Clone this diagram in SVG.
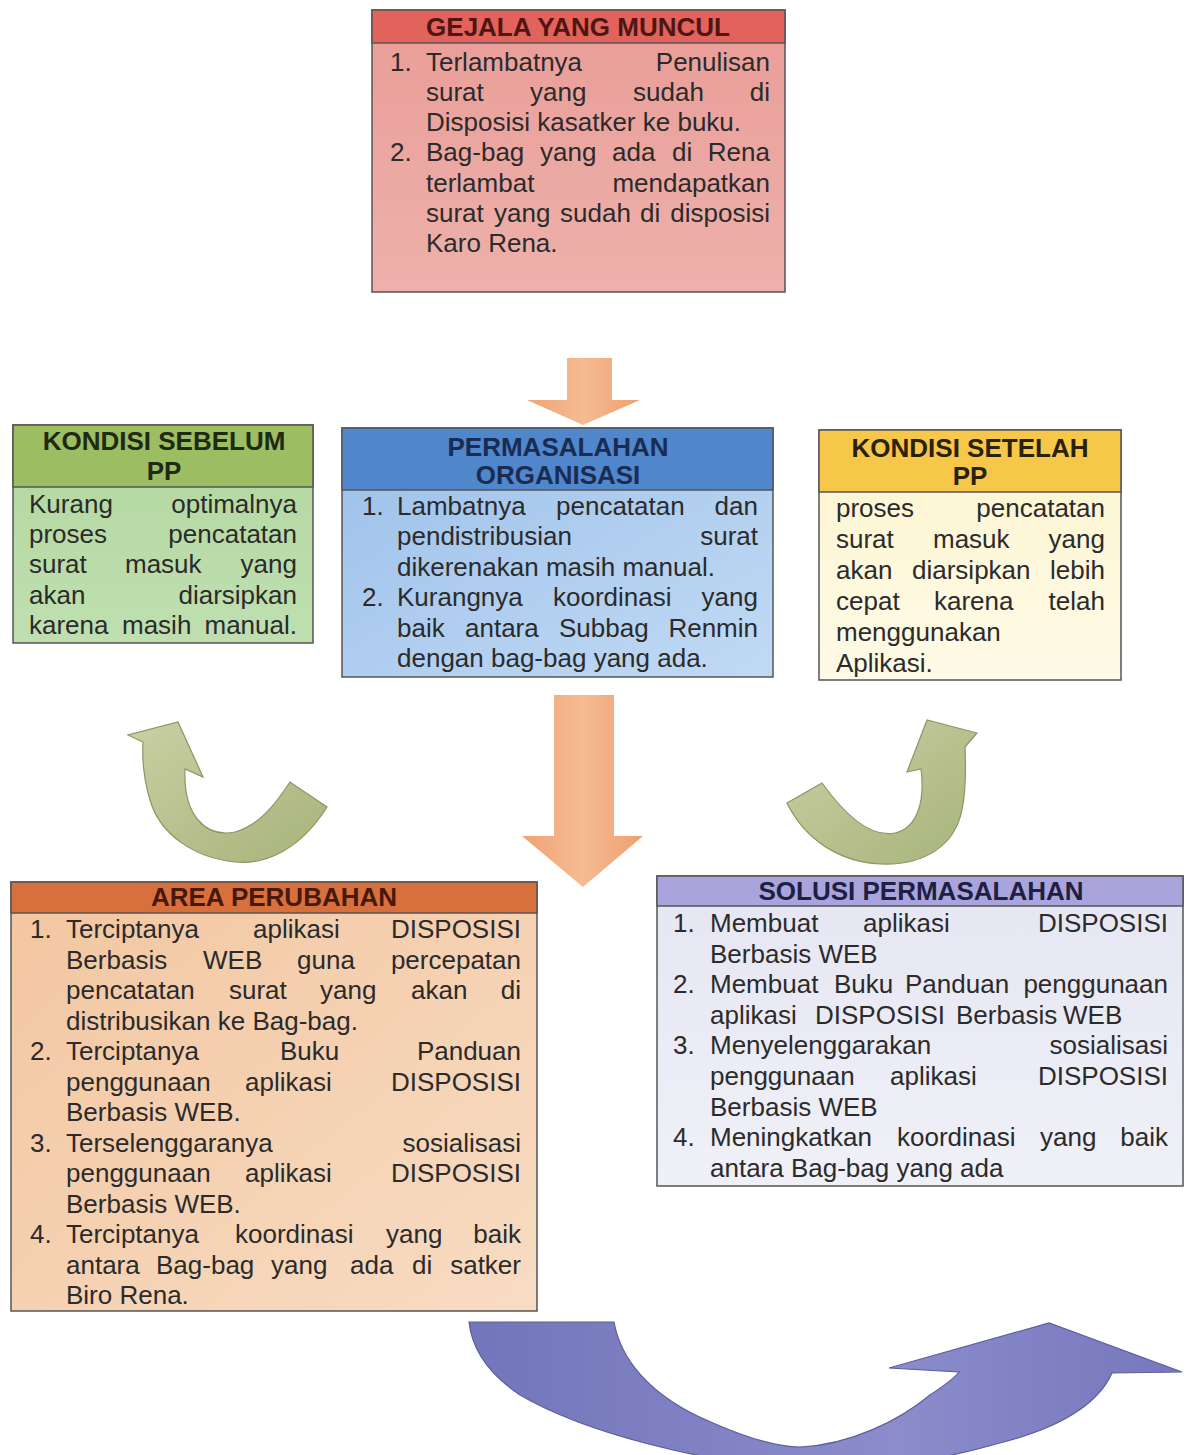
<svg xmlns="http://www.w3.org/2000/svg" width="1186" height="1455" viewBox="0 0 1186 1455">
<style>
.t{font-family:"Liberation Sans",Arial,sans-serif;font-size:26px;fill:#2b2b2b}
.h{font-weight:bold;text-anchor:middle}
.r{text-anchor:end}
.bx{stroke:#555;stroke-width:1.5}
.ln{stroke:#555;stroke-width:1.5;fill:none}
</style>
<defs>
<linearGradient id="gPink" x1="0" y1="0" x2="0" y2="1"><stop offset="0" stop-color="#e99c97"/><stop offset="1" stop-color="#eeb1ab"/></linearGradient>
<linearGradient id="gGreen" x1="0" y1="0" x2="0" y2="1"><stop offset="0" stop-color="#b2d79f"/><stop offset="1" stop-color="#bfdfb0"/></linearGradient>
<linearGradient id="gBlue" x1="0" y1="0" x2="1" y2="1"><stop offset="0" stop-color="#9cc0ea"/><stop offset="1" stop-color="#c1daf4"/></linearGradient>
<linearGradient id="gYel" x1="0" y1="0" x2="0" y2="1"><stop offset="0" stop-color="#fdf5cf"/><stop offset="1" stop-color="#fefae6"/></linearGradient>
<linearGradient id="gPeach" x1="0" y1="0" x2="1" y2="1"><stop offset="0" stop-color="#f2c6a0"/><stop offset="1" stop-color="#f8dcc3"/></linearGradient>
<linearGradient id="gLav" x1="0" y1="0" x2="0" y2="1"><stop offset="0" stop-color="#e6e6f3"/><stop offset="1" stop-color="#f0f0f8"/></linearGradient>
<linearGradient id="gOr" x1="0" y1="0" x2="1" y2="0"><stop offset="0" stop-color="#efa373"/><stop offset="0.5" stop-color="#f6bb92"/><stop offset="1" stop-color="#ee9f6e"/></linearGradient>
<linearGradient id="gOl" x1="0" y1="0" x2="1" y2="1"><stop offset="0" stop-color="#c9d0a4"/><stop offset="1" stop-color="#a8b37a"/></linearGradient>
<linearGradient id="gPur" x1="0" y1="0" x2="1" y2="0"><stop offset="0" stop-color="#7375bb"/><stop offset="0.6" stop-color="#8b8ccb"/><stop offset="1" stop-color="#7677bd"/></linearGradient>
</defs>

<g id="connectors">
<path id="arrow-top" d="M567,358 H612 V400 H640 L583,425 L527,400 H567 Z" fill="url(#gOr)"/>
<path id="arrow-center" d="M554,695 H614 V836 H643 L583,887 L522,836 H554 Z" fill="url(#gOr)"/>
<path id="arrow-left" d="M143,742 L128,735 L178,722 L203,777 L185,769 C183,815 205,838 235,832 C258,826 275,805 290,782 L327,807 C300,850 265,865 235,862 C195,858 160,835 150,800 C144,780 142,760 143,742 Z" fill="url(#gOl)" stroke="#8c9663" stroke-width="1.2"/>
<path id="arrow-right" d="M965,747 L977,733 L927,720 L907,772 L921,769 C925,800 918,828 895,833 C870,838 845,815 822,783 L787,803 C805,840 840,862 880,864 C925,866 955,845 962,810 C966,790 966,768 965,747 Z" fill="url(#gOl)" stroke="#8c9663" stroke-width="1.2"/>
<path id="arrow-bottom" d="M469,1322 L614,1322 C620,1355 645,1395 713,1423 C745,1437 775,1447 800,1447 C850,1445 900,1420 930,1395 C945,1385 955,1378 959,1372 L889,1368 L1049,1323 L1182,1372 L1112,1373 C1100,1400 1070,1425 1000,1443 C940,1460 880,1470 820,1470 C700,1465 580,1430 520,1395 C490,1375 472,1350 469,1322 Z" fill="url(#gPur)" stroke="#5c5d9f" stroke-width="1.2"/>
</g>

<g id="gejala">
<rect class="bx" x="372" y="10" width="413" height="282" fill="url(#gPink)"/>
<rect class="bx" x="372" y="10" width="413" height="33" fill="#e2625c"/>
<text class="t h" x="578" y="36" style="fill:#4f1612">GEJALA YANG MUNCUL</text>
<text class="t" y="71"><tspan x="390">1.</tspan><tspan x="426">Terlambatnya</tspan><tspan class="r" x="770">Penulisan</tspan></text>
<text class="t" y="101"><tspan x="426">surat</tspan><tspan x="530">yang</tspan><tspan x="633">sudah</tspan><tspan class="r" x="770">di</tspan></text>
<text class="t" x="426" y="131">Disposisi kasatker ke buku.</text>
<text class="t" y="161"><tspan x="390">2.</tspan><tspan x="426">Bag-bag</tspan><tspan x="540">yang</tspan><tspan x="612">ada</tspan><tspan x="672">di</tspan><tspan class="r" x="770">Rena</tspan></text>
<text class="t" y="192"><tspan x="426">terlambat</tspan><tspan class="r" x="770">mendapatkan</tspan></text>
<text class="t" y="222"><tspan x="426">surat</tspan><tspan x="494">yang</tspan><tspan x="560">sudah</tspan><tspan x="640">di</tspan><tspan class="r" x="770">disposisi</tspan></text>
<text class="t" x="426" y="252">Karo Rena.</text>
</g>

<g id="sebelum">
<rect class="bx" x="13" y="425" width="300" height="218" fill="url(#gGreen)"/>
<rect class="bx" x="13" y="425" width="300" height="62" fill="#9dbd62"/>
<text class="t h" x="164" y="450" style="fill:#1f2a12">KONDISI SEBELUM</text>
<text class="t h" x="164" y="480" style="fill:#1f2a12">PP</text>
<text class="t" y="513"><tspan x="29">Kurang</tspan><tspan class="r" x="297">optimalnya</tspan></text>
<text class="t" y="543"><tspan x="29">proses</tspan><tspan class="r" x="297">pencatatan</tspan></text>
<text class="t" y="573"><tspan x="29">surat</tspan><tspan x="125">masuk</tspan><tspan class="r" x="297">yang</tspan></text>
<text class="t" y="604"><tspan x="29">akan</tspan><tspan class="r" x="297">diarsipkan</tspan></text>
<text class="t" y="634"><tspan x="29">karena</tspan><tspan x="122">masih</tspan><tspan class="r" x="297">manual.</tspan></text>
</g>

<g id="permasalahan">
<rect class="bx" x="342" y="428" width="431" height="249" fill="url(#gBlue)"/>
<rect class="bx" x="342" y="428" width="431" height="62" fill="#4f86cc"/>
<text class="t h" x="558" y="456" style="fill:#1b2c52">PERMASALAHAN</text>
<text class="t h" x="558" y="484" style="fill:#1b2c52">ORGANISASI</text>
<text class="t" y="515"><tspan x="362">1.</tspan><tspan x="397">Lambatnya</tspan><tspan x="556">pencatatan</tspan><tspan class="r" x="758">dan</tspan></text>
<text class="t" y="545"><tspan x="397">pendistribusian</tspan><tspan class="r" x="758">surat</tspan></text>
<text class="t" x="397" y="576">dikerenakan masih manual.</text>
<text class="t" y="606"><tspan x="362">2.</tspan><tspan x="397">Kurangnya</tspan><tspan x="553">koordinasi</tspan><tspan class="r" x="758">yang</tspan></text>
<text class="t" y="637"><tspan x="397">baik</tspan><tspan x="465">antara</tspan><tspan x="559">Subbag</tspan><tspan class="r" x="758">Renmin</tspan></text>
<text class="t" x="397" y="667">dengan bag-bag yang ada.</text>
</g>

<g id="setelah">
<rect class="bx" x="819" y="430" width="302" height="250" fill="url(#gYel)"/>
<rect class="bx" x="819" y="430" width="302" height="62" fill="#f6c748"/>
<text class="t h" x="970" y="457" style="fill:#2a2208">KONDISI SETELAH</text>
<text class="t h" x="970" y="485" style="fill:#2a2208">PP</text>
<text class="t" y="517"><tspan x="836">proses</tspan><tspan class="r" x="1105">pencatatan</tspan></text>
<text class="t" y="548"><tspan x="836">surat</tspan><tspan x="933">masuk</tspan><tspan class="r" x="1105">yang</tspan></text>
<text class="t" y="579"><tspan x="836">akan</tspan><tspan x="912">diarsipkan</tspan><tspan class="r" x="1105">lebih</tspan></text>
<text class="t" y="610"><tspan x="836">cepat</tspan><tspan x="934">karena</tspan><tspan class="r" x="1105">telah</tspan></text>
<text class="t" x="836" y="641">menggunakan</text>
<text class="t" x="836" y="672">Aplikasi.</text>
</g>

<g id="area">
<rect class="bx" x="11" y="882" width="526" height="429" fill="url(#gPeach)"/>
<rect class="bx" x="11" y="882" width="526" height="31" fill="#d8703e"/>
<text class="t h" x="274" y="906" style="fill:#47190a">AREA PERUBAHAN</text>
<text class="t" y="938"><tspan x="30">1.</tspan><tspan x="66">Terciptanya</tspan><tspan x="253">aplikasi</tspan><tspan class="r" x="521">DISPOSISI</tspan></text>
<text class="t" y="968.5"><tspan x="66">Berbasis</tspan><tspan x="203">WEB</tspan><tspan x="297">guna</tspan><tspan class="r" x="521">percepatan</tspan></text>
<text class="t" y="999"><tspan x="66">pencatatan</tspan><tspan x="229">surat</tspan><tspan x="320">yang</tspan><tspan x="411">akan</tspan><tspan class="r" x="521">di</tspan></text>
<text class="t" x="66" y="1029.5">distribusikan ke Bag-bag.</text>
<text class="t" y="1060"><tspan x="30">2.</tspan><tspan x="66">Terciptanya</tspan><tspan x="280">Buku</tspan><tspan class="r" x="521">Panduan</tspan></text>
<text class="t" y="1090.5"><tspan x="66">penggunaan</tspan><tspan x="245">aplikasi</tspan><tspan class="r" x="521">DISPOSISI</tspan></text>
<text class="t" x="66" y="1121">Berbasis WEB.</text>
<text class="t" y="1151.5"><tspan x="30">3.</tspan><tspan x="66">Terselenggaranya</tspan><tspan class="r" x="521">sosialisasi</tspan></text>
<text class="t" y="1182"><tspan x="66">penggunaan</tspan><tspan x="245">aplikasi</tspan><tspan class="r" x="521">DISPOSISI</tspan></text>
<text class="t" x="66" y="1212.5">Berbasis WEB.</text>
<text class="t" y="1243"><tspan x="30">4.</tspan><tspan x="66">Terciptanya</tspan><tspan x="235">koordinasi</tspan><tspan x="386">yang</tspan><tspan class="r" x="521">baik</tspan></text>
<text class="t" y="1273.5"><tspan x="66">antara</tspan><tspan x="156">Bag-bag</tspan><tspan x="271">yang</tspan><tspan x="350">ada</tspan><tspan x="412">di</tspan><tspan class="r" x="521">satker</tspan></text>
<text class="t" x="66" y="1304">Biro Rena.</text>
</g>

<g id="solusi">
<rect class="bx" x="657" y="876" width="526" height="310" fill="url(#gLav)"/>
<rect class="bx" x="657" y="876" width="526" height="30" fill="#a9a5dc"/>
<text class="t h" x="921" y="900" style="fill:#1f1f42">SOLUSI PERMASALAHAN</text>
<text class="t" y="932"><tspan x="673">1.</tspan><tspan x="710">Membuat</tspan><tspan x="863">aplikasi</tspan><tspan class="r" x="1168">DISPOSISI</tspan></text>
<text class="t" x="710" y="963">Berbasis WEB</text>
<text class="t" y="993"><tspan x="673">2.</tspan><tspan x="710">Membuat</tspan><tspan x="834">Buku</tspan><tspan x="905">Panduan</tspan><tspan class="r" x="1168">penggunaan</tspan></text>
<text class="t" y="1024"><tspan x="710">aplikasi</tspan><tspan x="815">DISPOSISI</tspan><tspan x="956">Berbasis</tspan><tspan x="1063">WEB</tspan></text>
<text class="t" y="1054"><tspan x="673">3.</tspan><tspan x="710">Menyelenggarakan</tspan><tspan class="r" x="1168">sosialisasi</tspan></text>
<text class="t" y="1085"><tspan x="710">penggunaan</tspan><tspan x="890">aplikasi</tspan><tspan class="r" x="1168">DISPOSISI</tspan></text>
<text class="t" x="710" y="1116">Berbasis WEB</text>
<text class="t" y="1146"><tspan x="673">4.</tspan><tspan x="710">Meningkatkan</tspan><tspan x="897">koordinasi</tspan><tspan x="1040">yang</tspan><tspan class="r" x="1168">baik</tspan></text>
<text class="t" x="710" y="1177">antara Bag-bag yang ada</text>
</g>
</svg>
